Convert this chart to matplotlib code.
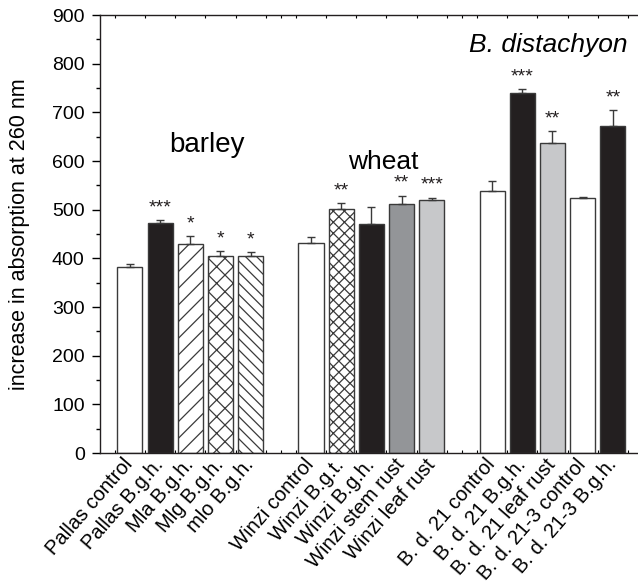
import matplotlib
matplotlib.use("Agg")
import matplotlib.pyplot as plt
from matplotlib.ticker import MultipleLocator
import numpy as np

plt.rcParams['font.family'] = ['Liberation Sans', 'DejaVu Sans']
plt.rcParams['hatch.linewidth'] = 0.9

labels = ["Pallas control", "Pallas B.g.h.", "Mla B.g.h.", "Mlg B.g.h.", "mlo B.g.h.",
          "Winzi control", "Winzi B.g.t.", "Winzi B.g.h.", "Winzi stem rust", "Winzi leaf rust",
          "B. d. 21 control", "B. d. 21 B.g.h.", "B. d. 21 leaf rust", "B. d. 21-3 control", "B. d. 21-3 B.g.h."]
positions = [0, 1, 2, 3, 4, 6, 7, 8, 9, 10, 12, 13, 14, 15, 16]
values = [383, 472, 429, 405, 405, 432, 501, 470, 512, 520, 538, 739, 636, 525, 672]
errors = [5, 6, 17, 10, 7, 12, 13, 36, 17, 5, 21, 9, 25, 2, 32]
stars = ["", "***", "*", "*", "*", "", "**", "", "**", "***", "", "***", "**", "", "**"]

fills = ["white", "#231f20", "white", "white", "white",
         "white", "white", "#231f20", "#939598", "#c7c8ca",
         "white", "#231f20", "#c7c8ca", "white", "#231f20"]
hatches = ["", "", "//", "xx", "\\\\\\", "", "xxx", "", "", "", "", "", "", "", ""]

fig = plt.figure(figsize=(6.38, 5.87), dpi=100)
ax = fig.add_axes([100/638, 1-453/587, 537/638, 438/587])

for x, v, e, f, h in zip(positions, values, errors, fills, hatches):
    ax.bar(x, v, width=0.83, color=f, edgecolor="#3a3a3a", linewidth=1.0, hatch=h, zorder=2)
    ax.errorbar(x, v, yerr=[[0], [e]], fmt="none", ecolor="#3a3a3a", elinewidth=1.0,
                capsize=3, capthick=1.0, zorder=3)

for x, v, e, s in zip(positions, values, errors, stars):
    if s:
        ax.annotate(s, (x, v + e), xytext=(0, 5.5), textcoords="offset points",
                    ha="center", va="baseline", fontsize=14, color="#231f20")

ax.set_xlim(-0.99, 16.8)
ax.set_ylim(0, 900)
ax.yaxis.set_major_locator(MultipleLocator(100))
ax.yaxis.set_minor_locator(MultipleLocator(50))
ax.set_xticks(positions)
ax.set_xticklabels(labels, rotation=49, ha="right", va="center", rotation_mode="anchor", fontsize=14.5)
ax.xaxis.set_minor_locator(MultipleLocator(0.5))
ax.tick_params(axis="x", which="major", length=0, pad=6)
ax.tick_params(axis="x", which="minor", length=2.5, width=0.8, direction="in", top=True, bottom=True)
ax.tick_params(axis="y", which="major", length=6, width=1, direction="out", labelsize=14, pad=5)
ax.tick_params(axis="y", which="minor", length=3, width=1, direction="out")
ax.spines["right"].set_visible(False)
for sp in ["left", "bottom", "top"]:
    ax.spines[sp].set_linewidth(1.0)
    ax.spines[sp].set_color("#231f20")

ax.set_ylabel("increase in absorption at 260 nm", fontsize=15.5, labelpad=16)

ax.text(2.55, 633, "barley", fontsize=20, ha="center", va="center")
ax.text(8.38, 598, "wheat", fontsize=19, ha="center", va="center")
ax.text(16.49, 838, "B. distachyon", fontsize=19, ha="right", va="center", style="italic")

fig.savefig("out.png", dpi=100)
